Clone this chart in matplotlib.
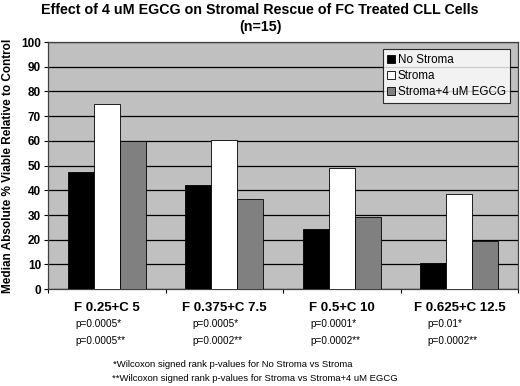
import numpy as np
import matplotlib.pyplot as plt

plt.rcParams['font.family'] = ['Liberation Sans', 'DejaVu Sans']

# Daten
gruppen = ['F 0.25+C 5', 'F 0.375+C 7.5', 'F 0.5+C 10', 'F 0.625+C 12.5']
no_stroma = [47.5, 42, 24.5, 10.5]
stroma = [75, 60.5, 49, 38.5]
stroma_egcg = [60, 36.5, 29, 19.5]
p_einzel = ['p=0.0005*', 'p=0.0005*', 'p=0.0001*', 'p=0.01*']
p_doppel = ['p=0.0005**', 'p=0.0002**', 'p=0.0002**', 'p=0.0002**']
serien = ['No Stroma', 'Stroma', 'Stroma+4 uM EGCG']

fig = plt.figure(figsize=(5.2, 3.86), dpi=100)
ax = fig.add_axes([0.0923, 0.251, 0.904, 0.64])
ax.set_facecolor('#c0c0c0')

x = np.arange(len(gruppen))
w = 0.221
farben = ['black', 'white', '#808080']
for i, (werte, name) in enumerate(zip([no_stroma, stroma, stroma_egcg], serien)):
    ax.bar(x + (i - 1) * w, werte, w, color=farben[i], edgecolor='black',
           linewidth=0.6, label=name, zorder=3)

ax.set_xlim(-0.5, len(gruppen) - 0.5)
ax.set_ylim(0, 100)
ax.set_yticks(range(0, 101, 10))
ax.yaxis.grid(True, color='black', linewidth=0.9, zorder=1)
ax.set_xticks(np.arange(len(gruppen) + 1) - 0.5)
ax.set_xticklabels([])
ax.tick_params(axis='x', direction='out', length=3)
ax.tick_params(axis='y', direction='out', length=3, pad=2)
for lbl in ax.get_yticklabels():
    lbl.set_fontweight('bold')
    lbl.set_fontsize(8.5)
for s in ax.spines.values():
    s.set_color('#404040')
    s.set_linewidth(0.9)

ax.set_ylabel('Median Absolute % Viable Relative to Control', fontsize=8.5,
              fontweight='bold', labelpad=5)

for i, g in enumerate(gruppen):
    ax.text(i, -5.3, g, ha='center', va='top', fontsize=9.5, fontweight='bold',
            clip_on=False)
    ax.text(i - 0.27, -12.3, p_einzel[i], ha='left', va='top', fontsize=7.2,
            clip_on=False)
    ax.text(i - 0.27, -18.8, p_doppel[i], ha='left', va='top', fontsize=7.2,
            clip_on=False)

fig.text(0.217, 0.056, '*Wilcoxon signed rank p-values for No Stroma vs Stroma',
         fontsize=6.8, va='center')
fig.text(0.215, 0.02, '**Wilcoxon signed rank p-values for Stroma vs Stroma+4 uM EGCG',
         fontsize=6.8, va='center')

fig.text(0.5, 0.975, 'Effect of 4 uM EGCG on Stromal Rescue of FC Treated CLL Cells',
         ha='center', va='center', fontsize=10.3, fontweight='bold')
fig.text(0.5, 0.93, '(n=15)', ha='center', va='center', fontsize=10.3, fontweight='bold')

leg = ax.legend(loc='upper right', fontsize=8.4, frameon=True, fancybox=False,
                edgecolor='black', handlelength=0.7, handleheight=0.7,
                handletextpad=0.2, borderpad=0.4, labelspacing=0.35,
                bbox_to_anchor=(0.996, 0.994))
leg.get_frame().set_linewidth(0.8)
leg.get_frame().set_facecolor('white')

fig.savefig('out.png', dpi=100)
